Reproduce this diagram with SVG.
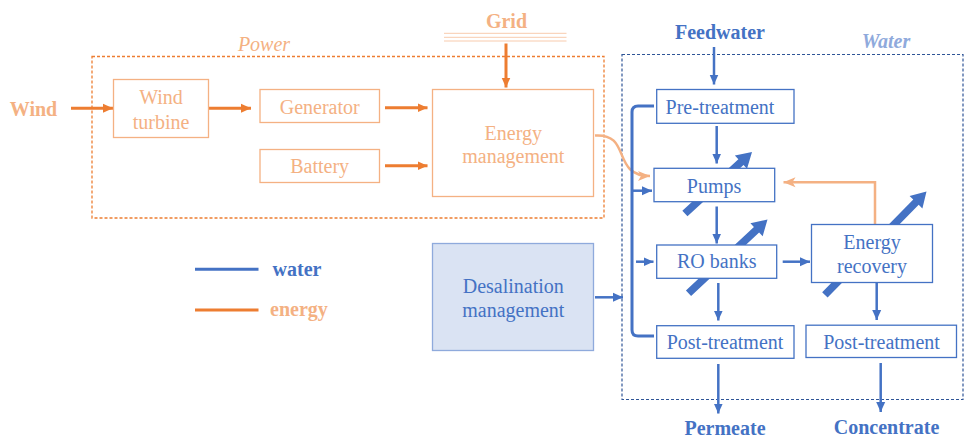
<svg xmlns="http://www.w3.org/2000/svg" width="966" height="438" viewBox="0 0 966 438">
<defs>
<style>
text{font-family:"Liberation Serif","Times New Roman",serif;font-size:20px;text-anchor:middle}
.pt{fill:#F4B183}
.wt{fill:#4472C4}
.b{font-weight:bold}
.pbox{fill:#fff;stroke:#F4B183;stroke-width:1.3}
.wbox{fill:#fff;stroke:#4472C4;stroke-width:1.3}
.oa{stroke:#ED7D31;stroke-width:3;fill:none;marker-end:url(#ho)}
.la{stroke:#F4B183;stroke-width:2.5;fill:none;marker-end:url(#hl)}
.ba{stroke:#4472C4;stroke-width:2.5;fill:none;marker-end:url(#hb)}
.big{fill:#4472C4}
</style>
<marker id="hb" markerUnits="userSpaceOnUse" markerWidth="10" markerHeight="10" refX="10" refY="5" orient="auto"><path d="M0,0.5 L10,5 L0,9.5 z" fill="#4472C4"/></marker>
<marker id="ho" markerUnits="userSpaceOnUse" markerWidth="10" markerHeight="10" refX="10" refY="5" orient="auto"><path d="M0,0.5 L10,5 L0,9.5 z" fill="#ED7D31"/></marker>
<marker id="hl" markerUnits="userSpaceOnUse" markerWidth="12" markerHeight="11" refX="12" refY="5.5" orient="auto"><path d="M0,0.5 L12,5.5 L0,10.5 L3,5.5 z" fill="#F4B183"/></marker>
<path id="bigarrow" d="M0,-3.8 H-15 V-9 L0,0 L-15,9 V3.8 H0 z"/>
</defs>

<!-- group frames -->
<g id="power-group">
<rect x="92" y="56.5" width="512" height="161.5" fill="none" stroke="#ED7D31" stroke-width="1.3" stroke-dasharray="3 2"/>
<text x="264" y="51" class="pt" style="font-style:italic">Power</text>
</g>
<g id="water-group">
<rect x="622" y="54.5" width="341" height="345" fill="none" stroke="#2F5597" stroke-width="1.2" stroke-dasharray="3 2"/>
<text x="886" y="48" style="font-style:italic;font-weight:bold;fill:#8FAADC">Water</text>
</g>

<!-- big variable arrows (behind boxes) -->
<g id="variable-arrows" class="big">
<path d="M685,213.5 L752,152" stroke="none"/>
<g transform="translate(752,152) rotate(-42.5)"><path d="M-91,-3.8 H-15 V-9 L0,0 L-15,9 V3.8 H-91 z"/></g>
<g transform="translate(767.5,219.5) rotate(-43)"><path d="M-108,-3.8 H-15 V-9 L0,0 L-15,9 V3.8 H-108 z"/></g>
<g transform="translate(926.5,191.5) rotate(-45.5)"><path d="M-145,-3.8 H-15 V-9 L0,0 L-15,9 V3.8 H-145 z"/></g>
</g>

<!-- connectors -->
<g id="connectors">
<line class="oa" x1="71" y1="108.3" x2="113" y2="108.3"/>
<line class="oa" x1="208.5" y1="108.3" x2="251" y2="108.3"/>
<line class="oa" x1="385" y1="107.7" x2="427.5" y2="107.7"/>
<line class="oa" x1="385" y1="165.7" x2="427.5" y2="165.7"/>
<line class="oa" x1="506" y1="43.5" x2="506" y2="87.5"/>
<path class="la" d="M595,135.5 C632,133 611,176 650,176"/>
<path class="la" d="M875,224.5 V182.3 H783.5"/>
<line class="ba" x1="714" y1="47" x2="714" y2="84.5"/>
<line class="ba" x1="716.7" y1="126" x2="716.7" y2="163.5"/>
<line class="ba" x1="716.7" y1="206.5" x2="716.7" y2="243.5"/>
<line class="ba" x1="718.3" y1="283" x2="718.3" y2="320.5"/>
<line class="ba" x1="876.7" y1="283" x2="876.7" y2="320"/>
<line class="ba" x1="718.3" y1="364" x2="718.3" y2="413.5"/>
<line class="ba" x1="880.7" y1="363" x2="880.7" y2="412"/>
<line class="ba" x1="633" y1="190.7" x2="652" y2="190.7"/>
<line class="ba" x1="636" y1="261.7" x2="653.5" y2="261.7"/>
<line class="ba" x1="782.7" y1="261.7" x2="810" y2="261.7"/>
<line class="ba" x1="595" y1="297.3" x2="623" y2="297.3"/>
<path d="M654,106 H638 Q632,106 632,112 V330 Q632,336 638,336 H654" fill="none" stroke="#4472C4" stroke-width="3"/>
</g>

<!-- labels -->
<g id="wind"><text x="33.5" y="116" class="pt b">Wind</text></g>
<g id="grid">
<text x="506.5" y="27.5" class="pt b">Grid</text>
<path d="M444,33.3 H566.5 M444,37.3 H566.5 M444,41 H566.5" stroke="#F8CBAD" stroke-width="1"/>
</g>
<g id="feedwater"><text x="720" y="38.5" class="wt b">Feedwater</text></g>
<g id="permeate"><text x="725" y="435" class="wt b">Permeate</text></g>
<g id="concentrate"><text x="886.5" y="434" class="wt b">Concentrate</text></g>

<!-- power nodes -->
<g id="wind-turbine">
<rect class="pbox" x="113.5" y="79.5" width="95" height="58"/>
<text x="161" y="103.5" class="pt">Wind</text>
<text x="161" y="128.5" class="pt">turbine</text>
</g>
<g id="generator">
<rect class="pbox" x="260" y="89.5" width="119.5" height="33"/>
<text x="319.7" y="113.5" class="pt">Generator</text>
</g>
<g id="battery">
<rect class="pbox" x="260" y="149.5" width="119.5" height="33"/>
<text x="319.7" y="172.5" class="pt">Battery</text>
</g>
<g id="energy-management">
<rect class="pbox" x="432.5" y="89.5" width="161" height="107"/>
<text x="513.3" y="139.5" class="pt">Energy</text>
<text x="513.3" y="163" class="pt">management</text>
</g>

<!-- water nodes -->
<g id="pre-treatment">
<rect class="wbox" x="656.7" y="89.5" width="137.3" height="33.8"/>
<text x="720" y="114" class="wt">Pre-treatment</text>
</g>
<g id="pumps">
<rect class="wbox" x="654" y="168.3" width="120.7" height="33.4"/>
<text x="714" y="192.5" class="wt">Pumps</text>
</g>
<g id="ro-banks">
<rect class="wbox" x="656.7" y="245" width="120" height="33.3"/>
<text x="716.7" y="268" class="wt">RO banks</text>
</g>
<g id="energy-recovery">
<rect class="wbox" x="811.5" y="224.5" width="121" height="58"/>
<text x="872" y="249" class="wt">Energy</text>
<text x="872" y="273" class="wt">recovery</text>
</g>
<g id="post-treatment-permeate">
<rect class="wbox" x="656.7" y="325.7" width="137.3" height="32.6"/>
<text x="725" y="349" class="wt">Post-treatment</text>
</g>
<g id="post-treatment-concentrate">
<rect class="wbox" x="806" y="325.2" width="150.5" height="32.3"/>
<text x="881.5" y="349" class="wt">Post-treatment</text>
</g>
<g id="desalination-management">
<rect x="432.5" y="243.5" width="161" height="107" fill="#DAE3F3" stroke="#8FAADC" stroke-width="1.3"/>
<text x="513.3" y="293" class="wt">Desalination</text>
<text x="513.3" y="316.5" class="wt">management</text>
</g>

<!-- legend -->
<g id="legend">
<line x1="195" y1="269.3" x2="258.5" y2="269.3" stroke="#4472C4" stroke-width="3"/>
<text x="297" y="276" class="wt b">water</text>
<line x1="195" y1="310" x2="258.5" y2="310" stroke="#ED7D31" stroke-width="3"/>
<text x="299" y="316" class="pt b">energy</text>
</g>
</svg>
